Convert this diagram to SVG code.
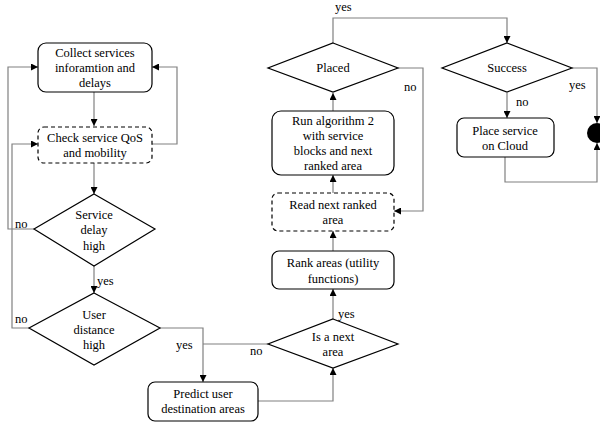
<svg xmlns="http://www.w3.org/2000/svg" width="600" height="428" viewBox="0 0 600 428" font-family="'Liberation Serif', 'Times New Roman', 'DejaVu Serif', serif">
<style>
.n{fill:#fff;stroke:#000;stroke-width:1.2}
.d{stroke-dasharray:4 3}
text{font-family:'Liberation Serif','Times New Roman','DejaVu Serif',serif;font-size:12.5px;fill:#000}
.c{text-anchor:middle}
.e{fill:none;stroke:#808080;stroke-width:1.2}
</style>
<defs>
<marker id="a" viewBox="0 0 10 10" refX="10" refY="5" markerWidth="7" markerHeight="7" markerUnits="userSpaceOnUse" orient="auto"><path d="M0,0L10,5L0,10z" fill="#000"/></marker>
</defs>
<rect width="600" height="428" fill="#fff"/>
<g id="connectors">
<path class="e" d="M94,92V126" marker-end="url(#a)"/>
<path class="e" d="M94,163V194" marker-end="url(#a)"/>
<path class="e" d="M94,266V293" marker-end="url(#a)"/>
<path class="e" d="M152,144H177V67H152" marker-end="url(#a)"/>
<path class="e" d="M34,229H8V67H38" marker-end="url(#a)"/>
<path class="e" d="M29,328H12V144H38" marker-end="url(#a)"/>
<path class="e" d="M160,328H203V382" marker-end="url(#a)"/>
<path class="e" d="M268,344H203"/>
<path class="e" d="M258,401H333V368" marker-end="url(#a)"/>
<path class="e" d="M333,319V289" marker-end="url(#a)"/>
<path class="e" d="M333,251V231" marker-end="url(#a)"/>
<path class="e" d="M333,193V175" marker-end="url(#a)"/>
<path class="e" d="M333,111V93" marker-end="url(#a)"/>
<path class="e" d="M398,68H423V211H394" marker-end="url(#a)"/>
<path class="e" d="M333,43V18H507V43" marker-end="url(#a)"/>
<path class="e" d="M507,93V118" marker-end="url(#a)"/>
<path class="e" d="M572,68H597V123" marker-end="url(#a)"/>
<path class="e" d="M505,157V182H597V143" marker-end="url(#a)"/>
<text x="15" y="228">no</text>
<text x="15" y="323">no</text>
<text x="97" y="285">yes</text>
<text x="176" y="349">yes</text>
<text x="250" y="355">no</text>
<text x="338" y="318">yes</text>
<text x="404" y="91">no</text>
<text x="335" y="11">yes</text>
<text x="516" y="106">no</text>
<text x="569" y="89">yes</text>
</g>
<g id="collect"><rect class="n" x="38" y="43" width="114" height="49" rx="8"/><text class="c" x="95" y="57">Collect services</text><text class="c" x="95" y="72">inforamtion and</text><text class="c" x="95" y="87">delays</text></g>
<g id="check"><rect class="n d" x="38" y="127" width="114" height="36" rx="6"/><text class="c" x="95" y="142">Check service QoS</text><text class="c" x="95" y="157">and mobility</text></g>
<g id="delay"><path class="n" d="M94,194L155,229L94,266L34,229z"/><text class="c" x="94" y="219">Service</text><text class="c" x="94" y="234">delay</text><text class="c" x="94" y="250">high</text></g>
<g id="distance"><path class="n" d="M94,293L160,328L94,365L29,328z"/><text class="c" x="94" y="319">User</text><text class="c" x="94" y="334">distance</text><text class="c" x="94" y="349">high</text></g>
<g id="predict"><rect class="n" x="148" y="382" width="110" height="39" rx="7"/><text class="c" x="203" y="398">Predict user</text><text class="c" x="203" y="413">destination areas</text></g>
<g id="nextarea"><path class="n" d="M333,319L398,344L333,368L268,344z"/><text class="c" x="333" y="341">Is a next</text><text class="c" x="333" y="356">area</text></g>
<g id="rank"><rect class="n" x="272" y="251" width="122" height="38" rx="7"/><text class="c" x="333" y="267">Rank areas (utility</text><text class="c" x="333" y="283">functions)</text></g>
<g id="read"><rect class="n d" x="272" y="193" width="122" height="38" rx="6"/><text class="c" x="333" y="209">Read next ranked</text><text class="c" x="333" y="224">area</text></g>
<g id="run"><rect class="n" x="272" y="111" width="122" height="64" rx="9"/><text class="c" x="333" y="125">Run algorithm 2</text><text class="c" x="333" y="140">with service</text><text class="c" x="333" y="155">blocks and next</text><text class="c" x="333" y="170">ranked area</text></g>
<g id="placed"><path class="n" d="M333,43L398,68L333,92L268,68z"/><text class="c" x="333" y="72">Placed</text></g>
<g id="success"><path class="n" d="M507,43L572,68L507,92L442,68z"/><text class="c" x="507" y="72">Success</text></g>
<g id="cloud"><rect class="n" x="457" y="118" width="97" height="39" rx="7"/><text class="c" x="505" y="135">Place service</text><text class="c" x="505" y="150">on Cloud</text></g>
<g id="end"><circle cx="597" cy="133" r="10" fill="#000"/></g>
</svg>
